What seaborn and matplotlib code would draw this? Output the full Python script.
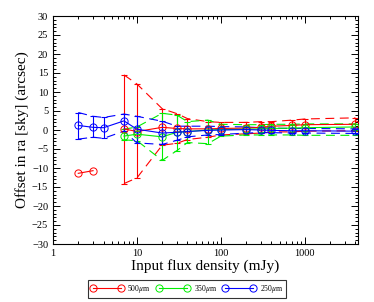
import numpy as np
import pandas as pd
import matplotlib
matplotlib.use("Agg")
import matplotlib.pyplot as plt
import seaborn as sns
from matplotlib.lines import Line2D
from matplotlib.ticker import LogLocator, MultipleLocator, NullFormatter, FixedLocator, FixedFormatter

nan = np.nan

flux = [2, 3, 4, 7, 10, 20, 30, 40, 70, 100, 200, 300, 400, 700, 1000, 4000]

# 500 micron
red_off = [-11.4, -10.7, nan, 0.3, -0.4, 0.7, 0.4, 0.3, 0.3, 0.4, 0.5, 0.7, 1.0, 1.2, 1.4, 1.5]
red_hi = [nan, nan, nan, 14.5, 12.1, 5.6, 4.3, 3.0, 2.2, 2.0, 2.0, 2.2, 2.2, 2.6, 2.9, 3.2]
red_lo = [nan, nan, nan, -14.1, -12.6, -4.0, -3.5, -2.5, -1.9, -1.3, -1.0, -0.8, -0.5, -0.5, -0.3, -0.2]

# 350 micron
green_off = [nan, nan, nan, -1.6, -1.1, -1.8, -0.6, -0.4, 0.0, 0.1, 0.2, 0.3, 0.4, 0.5, 0.6, 0.8]
green_hi = [nan, nan, nan, 0.2, 0.8, 4.4, 3.9, 2.2, 2.6, 1.5, 1.4, 1.4, 1.5, 1.5, 1.6, 1.6]
green_lo = [nan, nan, nan, -2.6, -2.8, -8.0, -5.4, -3.3, -3.6, -1.6, -1.3, -1.3, -1.3, -1.3, -1.4, -1.4]

# 250 micron
blue_off = [1.2, 0.7, 0.6, 2.4, 0.2, -0.8, -0.6, -0.4, -0.1, 0.0, 0.1, 0.0, -0.1, -0.2, -0.2, -0.3]
blue_hi = [4.6, 3.6, 3.3, 4.2, 3.6, 2.3, 1.0, 1.0, 1.0, 0.9, 0.8, 0.6, 0.5, 0.4, 0.4, 0.3]
blue_lo = [-2.4, -1.9, -2.2, -0.3, -3.4, -3.8, -2.7, -1.8, -1.3, -1.2, -0.8, -0.7, -0.7, -0.8, -0.8, -0.9]

labels = ["500$\\mu$m", "350$\\mu$m", "250$\\mu$m"]
colors = ["#ff0000", "#00ee00", "#0000ff"]

x_ticks = [1, 10, 100, 1000]
x_ticklabels = ["1", "10", "100", "1000"]
y_ticks = list(range(-30, 31, 5))

plt.rcParams["font.family"] = ["Liberation Serif", "DejaVu Serif"]
plt.rcParams["mathtext.fontset"] = "stix"

fig = plt.figure(figsize=(3.74, 3.02), dpi=100)
ax = fig.add_axes([53 / 374, (302 - 244) / 302, (358 - 53) / 374, (244 - 16) / 302])

series = [(red_off, red_hi, red_lo), (green_off, green_hi, green_lo), (blue_off, blue_hi, blue_lo)]

for (off, hi, lo), col, lab in zip(series, colors, labels):
    off = np.array(off, float)
    hi = np.array(hi, float)
    lo = np.array(lo, float)
    x = np.array(flux, float)
    # segment ids so NaN gaps break the line
    seg = np.cumsum(np.isnan(off))
    df = pd.DataFrame({"x": x, "y": off, "seg": seg}).dropna()
    sns.lineplot(data=df, x="x", y="y", units="seg", estimator=None, ax=ax,
                 color=col, lw=0.8, marker="o", markersize=5.2,
                 markerfacecolor="none", markeredgecolor=col, markeredgewidth=0.7,
                 legend=False, zorder=3)
    # envelopes
    env = pd.DataFrame({"x": x, "hi": hi, "lo": lo}).dropna()
    for c in ["hi", "lo"]:
        sns.lineplot(data=env, x="x", y=c, ax=ax, color=col, lw=0.8,
                     linestyle=(0, (8, 5)), estimator=None, legend=False, zorder=2)
    # vertical error bars
    m = ~np.isnan(hi)
    yc = np.where(np.isnan(off), (hi + lo) / 2, off)
    ax.errorbar(x[m], yc[m], yerr=[yc[m] - lo[m], hi[m] - yc[m]], fmt="none",
                ecolor=col, elinewidth=0.8, capsize=2.2, capthick=0.8, zorder=2)

ax.set_xscale("log")
ax.set_xlim(1, 4300)
ax.set_ylim(-30, 30)
ax.xaxis.set_major_locator(FixedLocator(x_ticks))
ax.xaxis.set_major_formatter(FixedFormatter(x_ticklabels))
ax.xaxis.set_minor_locator(LogLocator(base=10, subs=np.arange(2, 10)))
ax.xaxis.set_minor_formatter(NullFormatter())
ax.yaxis.set_major_locator(FixedLocator(y_ticks))
ax.yaxis.set_minor_locator(MultipleLocator(1))

ax.tick_params(which="both", direction="in", top=True, right=True, labelsize=7.5,
               width=0.7, colors="black")
ax.tick_params(which="major", length=5)
ax.tick_params(which="minor", length=2.5)
for s in ax.spines.values():
    s.set_linewidth(0.8)

ax.set_xlabel("Input flux density (mJy)", fontsize=11, labelpad=1)
ax.set_ylabel("Offset in ra [sky] (arcsec)", fontsize=11, labelpad=2)

handles = [Line2D([0], [0], color=c, lw=0.8, marker="o", markersize=5.2,
                  markerfacecolor="none", markeredgecolor=c, markeredgewidth=0.7)
           for c in colors]
leg = fig.legend(handles, labels, loc="center", bbox_to_anchor=(187 / 374, 1 - 289 / 302),
                 ncol=3, fontsize=5.5, numpoints=2, handlelength=4.2, handletextpad=0.6,
                 columnspacing=0.8, frameon=True, fancybox=False, borderpad=0.35,
                 edgecolor="black")
leg.get_frame().set_linewidth(0.8)

fig.savefig("out.png", dpi=100)
